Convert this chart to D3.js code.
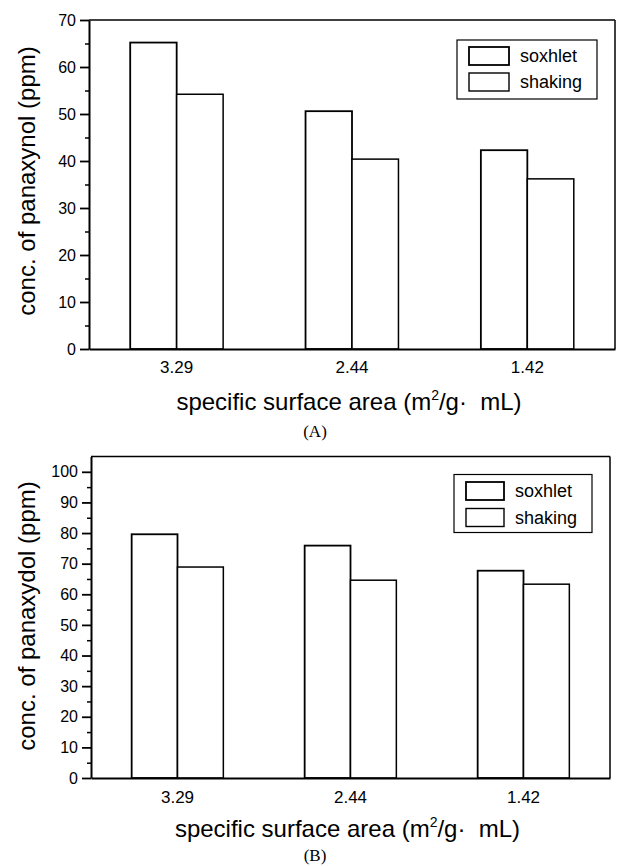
<!DOCTYPE html>
<html>
<head>
<meta charset="utf-8">
<script src="https://cdn.jsdelivr.net/npm/d3@7"></script>
<style>
  html, body { margin: 0; padding: 0; background: #fff; }
  svg { display: block; }
  text { fill: #000; }
</style>
</head>
<body>
<svg id="chart" width="624" height="866"></svg>
<script>
// data
var categories = ["3.29", "2.44", "1.42"];
var seriesNames = ["soxhlet", "shaking"];
var panaxynolSoxhlet = [65.2, 50.6, 42.3];
var panaxynolShaking = [54.2, 40.4, 36.2];
var panaxydolSoxhlet = [79.6, 75.9, 67.7];
var panaxydolShaking = [68.9, 64.6, 63.3];
var panaxynolTicks = [0, 10, 20, 30, 40, 50, 60, 70];
var panaxydolTicks = [0, 10, 20, 30, 40, 50, 60, 70, 80, 90, 100];

var svg = d3.select("#chart");
var sansFont = "'Liberation Sans', Arial, sans-serif";

function drawPanel(opt) {
    var g = svg.append("g");

    var x = d3.scaleBand().domain(categories).range([opt.left, opt.right]).padding(0);
    var y = d3.scaleLinear().domain(opt.yDomain).range([opt.bottom, opt.top]);
    var barW = x.bandwidth() * 0.265;

    // bars
    var rows = [];
    categories.forEach(function (c, i) {
        rows.push({ cat: c, s: 0, v: opt.values[0][i] });
        rows.push({ cat: c, s: 1, v: opt.values[1][i] });
    });
    g.selectAll("rect.bar").data(rows).enter().append("rect")
        .attr("class", "bar")
        .attr("x", function (d) { return x(d.cat) + x.bandwidth() / 2 + (d.s - 1) * barW; })
        .attr("y", function (d) { return y(d.v); })
        .attr("width", barW)
        .attr("height", function (d) { return y(0) - y(d.v); })
        .attr("fill", "#fff")
        .attr("stroke", "#000")
        .attr("stroke-width", function (d) { return d.s === 0 ? 1.8 : 1.5; });

    // frame: top and right thin
    g.append("line").attr("x1", opt.left).attr("x2", opt.right).attr("y1", opt.top).attr("y2", opt.top)
        .attr("stroke", "#000").attr("stroke-width", 1.5);
    g.append("line").attr("x1", opt.right).attr("x2", opt.right).attr("y1", opt.top).attr("y2", opt.bottom)
        .attr("stroke", "#000").attr("stroke-width", 1.5);

    // y axis, major + minor ticks
    var minor = d3.range(opt.yDomain[0] + 5, opt.yDomain[1], 10);
    var yMinor = g.append("g").attr("transform", "translate(" + opt.left + ",0)")
        .call(d3.axisLeft(y).tickValues(minor).tickSize(4).tickFormat(""));
    yMinor.select(".domain").remove();
    yMinor.selectAll("line").attr("stroke-width", 1.5);

    var yAxis = g.append("g").attr("transform", "translate(" + opt.left + ",0)")
        .call(d3.axisLeft(y).tickValues(opt.ticks).tickSizeInner(9).tickSizeOuter(0).tickPadding(4));
    yAxis.select(".domain").attr("stroke-width", 2);
    yAxis.selectAll("line").attr("stroke-width", 1.8);
    yAxis.selectAll("text").attr("font-family", sansFont).attr("font-size", 16);

    // x axis, labels only
    var xAxis = g.append("g").attr("transform", "translate(0," + opt.bottom + ")")
        .call(d3.axisBottom(x).tickSize(0).tickPadding(opt.xPad));
    xAxis.select(".domain").attr("stroke-width", 2);
    xAxis.selectAll("text").attr("font-family", sansFont).attr("font-size", 17);

    // axis titles
    g.append("text")
        .attr("transform", "translate(35," + opt.yTitleY + ") rotate(-90)")
        .attr("text-anchor", "middle")
        .attr("font-family", sansFont).attr("font-size", 24)
        .text(opt.yTitle);

    var xt = g.append("text")
        .attr("x", (opt.left + opt.right) / 2 - 3).attr("y", opt.xTitleY)
        .attr("text-anchor", "middle")
        .attr("font-family", sansFont).attr("font-size", 24)
        .style("white-space", "pre");
    xt.append("tspan").text("specific surface area (m");
    xt.append("tspan").attr("font-size", 14).attr("dy", -10).text("2");
    xt.append("tspan").attr("dy", 10).text("/g\u00B7  mL)");

    // caption
    g.append("text")
        .attr("x", 315).attr("y", opt.captionY)
        .attr("text-anchor", "middle")
        .attr("font-family", "'Liberation Serif', 'Times New Roman', serif").attr("font-size", 17)
        .text(opt.caption);

    // legend
    var L = opt.legend;
    g.append("rect").attr("x", L.x).attr("y", L.y).attr("width", L.w).attr("height", L.h)
        .attr("fill", "#fff").attr("stroke", "#000").attr("stroke-width", 1.2);
    seriesNames.forEach(function (name, i) {
        var cy = L.y + L.first + i * L.step;
        g.append("rect").attr("x", L.x + 12).attr("y", cy - 9).attr("width", L.sw).attr("height", 18)
            .attr("fill", "#fff").attr("stroke", "#000").attr("stroke-width", i === 0 ? 1.8 : 1.4);
        g.append("text").attr("x", L.x + 12 + L.sw + 11).attr("y", cy + 6)
            .attr("font-family", sansFont).attr("font-size", 18)
            .text(name);
    });
}

drawPanel({
    left: 89, right: 615, top: 20, bottom: 349,
    yDomain: [0, 70], ticks: panaxynolTicks,
    values: [panaxynolSoxhlet, panaxynolShaking],
    yTitle: "conc. of panaxynol (ppm)", yTitleY: 181,
    xPad: 12, xTitleY: 410, caption: "(A)", captionY: 437,
    legend: { x: 457, y: 40, w: 140, h: 59, first: 16, step: 26, sw: 40 }
});

drawPanel({
    left: 91, right: 610, top: 456.5, bottom: 778,
    yDomain: [0, 105], ticks: panaxydolTicks,
    values: [panaxydolSoxhlet, panaxydolShaking],
    yTitle: "conc. of panaxydol (ppm)", yTitleY: 616,
    xPad: 12.5, xTitleY: 837, caption: "(B)", captionY: 861,
    legend: { x: 454, y: 474.5, w: 138, h: 58, first: 16.5, step: 26.5, sw: 38 }
});
</script>
</body>
</html>
